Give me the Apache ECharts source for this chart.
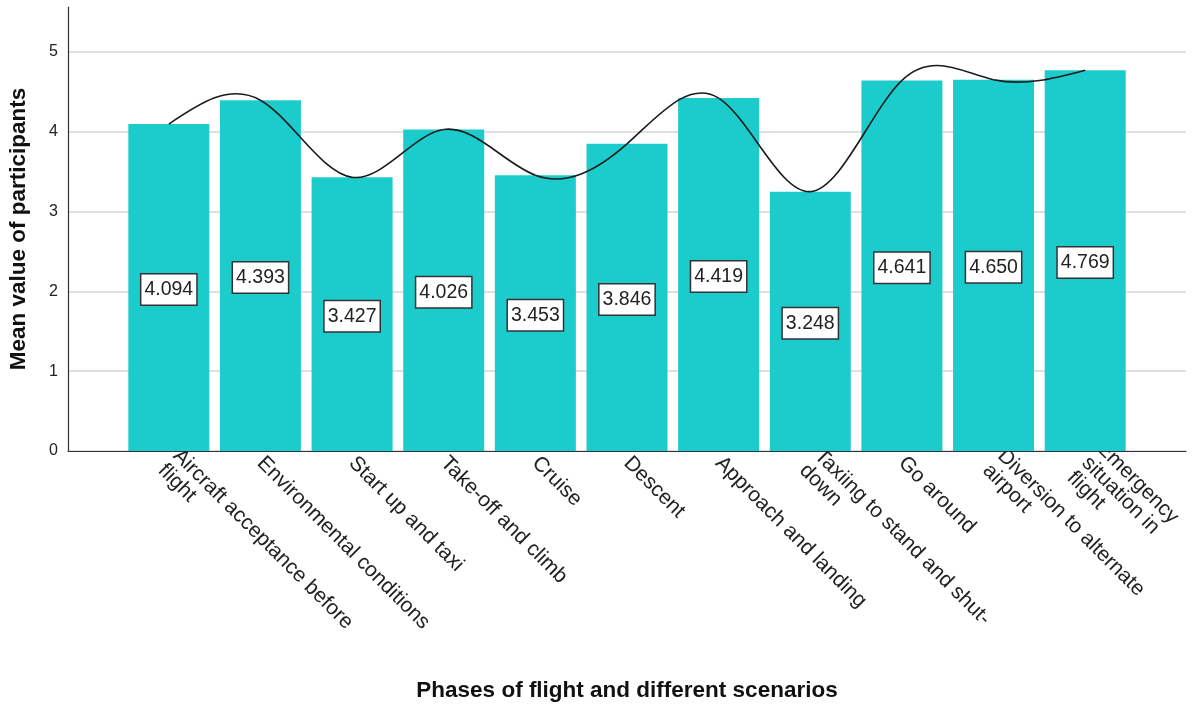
<!DOCTYPE html>
<html>
<head>
<meta charset="utf-8">
<script src="https://cdn.jsdelivr.net/npm/echarts@6/dist/echarts.min.js"></script>
<style>
  html, body { margin: 0; padding: 0; background: #fff; }
  #chart { width: 1192px; height: 709px; }
</style>
</head>
<body>
<div id="chart"></div>
<script>
const phases = [
    'Aircraft acceptance before\nflight',
    'Environmental conditions',
    'Start up and taxi',
    'Take-off and climb',
    'Cruise',
    'Descent',
    'Approach and landing',
    'Taxiing to stand and shut-\ndown',
    'Go around',
    'Diversion to alternate\nairport',
    'Emergency\nsituation in\nflight'
]
const meanValues = [4.094, 4.393, 3.427, 4.026, 3.453, 3.846, 4.419, 3.248, 4.641, 4.650, 4.769]
const yTicks = [0, 1, 2, 3, 4, 5]

const font = 'Liberation Sans, Arial, sans-serif'
const yMax = 5.56

const chart = echarts.init(document.getElementById('chart'))

// natural cubic spline through the projected points, drawn as bezier segments
const splineCurve = (params, api) => {
    if (params.dataIndex !== 0) return null
    const pts = meanValues.map((v, i) => api.coord([i, v]))
    const n = pts.length - 1
    const h = pts[1][0] - pts[0][0]
    // solve for second derivatives (M0 = Mn = 0)
    const M = new Array(n + 1).fill(0)
    const a = [], b = [], c = [], d = []
    for (let i = 1; i < n; i++) {
        a.push(1); b.push(4); c.push(1)
        d.push(6 * (pts[i + 1][1] - 2 * pts[i][1] + pts[i - 1][1]) / (h * h))
    }
    const m = d.length
    for (let i = 1; i < m; i++) {
        const w = a[i] / b[i - 1]
        b[i] -= w * c[i - 1]
        d[i] -= w * d[i - 1]
    }
    const sol = new Array(m)
    sol[m - 1] = d[m - 1] / b[m - 1]
    for (let i = m - 2; i >= 0; i--) sol[i] = (d[i] - c[i] * sol[i + 1]) / b[i]
    for (let i = 1; i < n; i++) M[i] = sol[i - 1]

    const children = []
    for (let i = 0; i < n; i++) {
        const [x0, y0] = pts[i]
        const [x1, y1] = pts[i + 1]
        const slope = (y1 - y0) / h
        const s0 = slope - h * (2 * M[i] + M[i + 1]) / 6
        const s1 = slope + h * (M[i] + 2 * M[i + 1]) / 6
        children.push({
            type: 'bezierCurve',
            shape: {
                x1: x0, y1: y0, x2: x1, y2: y1,
                cpx1: x0 + h / 3, cpy1: y0 + s0 * h / 3,
                cpx2: x1 - h / 3, cpy2: y1 - s1 * h / 3
            },
            style: { fill: null, stroke: '#1a1a1a', lineWidth: 1.6 }
        })
    }
    return { type: 'group', children }
}

const option = {
    animation: false,
    backgroundColor: '#fff',
    grid: [
        // bars and curve
        { left: 123, right: 61, top: 7, bottom: 258, outerBoundsMode: 'none' },
        // axis frame, gridlines
        { left: 68, right: 6, top: 7, bottom: 258, outerBoundsMode: 'none' }
    ],
    xAxis: [
        {
            type: 'category',
            gridIndex: 0,
            data: phases,
            axisLine: { show: false },
            axisTick: { show: false },
            axisLabel: {
                rotate: -45,
                interval: 0,
                margin: 9,
                fontFamily: font,
                fontSize: 21,
                lineHeight: 21,
                color: '#222'
            }
        },
        {
            type: 'value',
            gridIndex: 1,
            min: 0,
            max: 1,
            name: 'Phases of flight and different scenarios',
            nameLocation: 'middle',
            nameGap: 228,
            nameTextStyle: { fontFamily: font, fontSize: 22.5, fontWeight: 'bold', color: '#111' },
            axisLine: { show: true, lineStyle: { color: '#333', width: 1.2 } },
            axisTick: { show: false },
            axisLabel: { show: false },
            splitLine: { show: false }
        }
    ],
    yAxis: [
        {
            type: 'value',
            gridIndex: 0,
            min: 0,
            max: yMax,
            show: false
        },
        {
            type: 'value',
            gridIndex: 1,
            min: 0,
            max: yMax,
            interval: 1,
            name: 'Mean value of participants',
            nameLocation: 'middle',
            nameGap: 38,
            nameMoveOverlap: false,
            nameTextStyle: { fontFamily: font, fontSize: 22.5, fontWeight: 'bold', color: '#111' },
            axisLine: { show: true, lineStyle: { color: '#333', width: 1.2 } },
            axisTick: { show: false },
            axisLabel: {
                margin: 10,
                fontFamily: font,
                fontSize: 16,
                color: '#222',
                showMaxLabel: false,
                formatter: v => (yTicks.includes(v) ? String(v) : '')
            },
            splitLine: {
                show: true,
                showMaxLine: false,
                lineStyle: { color: '#d6d6d6', width: 1.5 }
            }
        }
    ],
    series: [
        {
            type: 'bar',
            xAxisIndex: 0,
            yAxisIndex: 0,
            data: meanValues,
            barWidth: 81,
            itemStyle: { color: '#1ccccc' },
            label: {
                show: true,
                position: 'inside',
                offset: [0, 2],
                formatter: p => p.value.toFixed(3),
                fontFamily: font,
                fontSize: 19.5,
                color: '#222',
                backgroundColor: '#fff',
                borderColor: '#333',
                borderWidth: 1.5,
                padding: [6, 3, 4, 3]
            },
            z: 2
        },
        {
            type: 'custom',
            xAxisIndex: 0,
            yAxisIndex: 0,
            data: meanValues.map((v, i) => [i, v]),
            encode: { x: 0, y: 1 },
            renderItem: splineCurve,
            silent: true,
            z: 3
        }
    ]
}

chart.setOption(option)
</script>
</body>
</html>
